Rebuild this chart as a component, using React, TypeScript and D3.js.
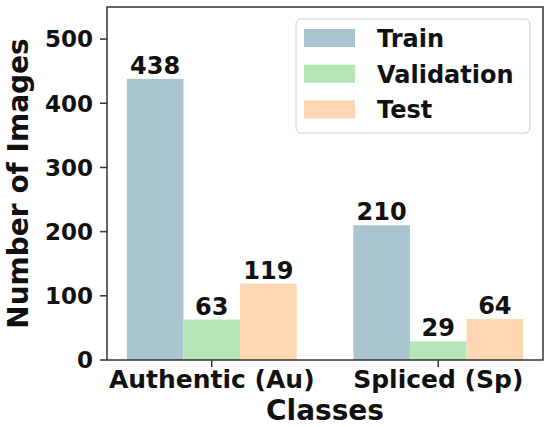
import React, { useEffect } from 'react';
import * as d3 from 'd3';

const classes = ['Authentic (Au)', 'Spliced (Sp)'];
const splits = ['Train', 'Validation', 'Test'];
const trainCounts = [438, 210];
const validationCounts = [63, 29];
const testCounts = [119, 64];
const yTickValues = [0, 100, 200, 300, 400, 500];

const colors = ['#aac5d0', '#b5e6b5', '#fdd6b2'];
const font = '"DejaVu Sans", sans-serif';

const width = 550;
const height = 427;
const margin = { left: 107, right: 7, top: 7, bottom: 67 };

export default function App() {
  useEffect(() => {
    document.body.style.margin = '0';
  }, []);

  const series = [trainCounts, validationCounts, testCounts];
  const barW = 0.25;

  const x = d3
    .scaleLinear()
    .domain([-0.4625, classes.length - 1 + 0.4625])
    .range([margin.left, width - margin.right]);
  const y = d3
    .scaleLinear()
    .domain([0, 550])
    .range([height - margin.bottom, margin.top]);

  const x0 = margin.left;
  const x1 = width - margin.right;
  const y0 = height - margin.bottom;
  const y1 = margin.top;

  return (
    <svg width={width} height={height} style={{ display: 'block' }} fontFamily={font} fontWeight="bold">
      <rect width={width} height={height} fill="#fff" />

      {series.map((vals, j) =>
        vals.map((v, i) => {
          const cx = i + (j - 1) * barW;
          return (
            <g key={`${j}-${i}`}>
              <rect
                x={x(cx - barW / 2)}
                y={y(v)}
                width={x(cx + barW / 2) - x(cx - barW / 2)}
                height={y(0) - y(v)}
                fill={colors[j]}
              />
              <text x={x(cx)} y={y(v) - 5} textAnchor="middle" fontSize={24} fill="#111">
                {v}
              </text>
            </g>
          );
        })
      )}

      {/* spines */}
      <rect x={x0} y={y1} width={x1 - x0} height={y0 - y1} fill="none" stroke="#333" strokeWidth={1.5} />

      {/* y axis */}
      {yTickValues.map(t => (
        <g key={t}>
          <line x1={x0 - 7} x2={x0} y1={y(t)} y2={y(t)} stroke="#333" strokeWidth={1.5} />
          <text x={x0 - 14} y={y(t)} dy="0.36em" textAnchor="end" fontSize={23} fill="#111">
            {t}
          </text>
        </g>
      ))}

      {/* x axis */}
      {classes.map((c, i) => (
        <g key={c}>
          <line x1={x(i)} x2={x(i)} y1={y0} y2={y0 + 7} stroke="#333" strokeWidth={1.5} />
          <text x={x(i)} y={y0 + 28} textAnchor="middle" fontSize={25} fill="#111">
            {c}
          </text>
        </g>
      ))}

      <text x={(x0 + x1) / 2} y={420} textAnchor="middle" fontSize={28} fill="#111">
        Classes
      </text>
      <text
        transform={`translate(28,${(y0 + y1) / 2}) rotate(-90)`}
        textAnchor="middle"
        fontSize={28}
        fill="#111"
      >
        Number of Images
      </text>

      {/* legend */}
      <g>
        <rect x={296} y={19} width={234} height={114} rx={5} fill="#fff" fillOpacity={0.8} stroke="#d0d0d0" strokeWidth={1} />
        {splits.map((s, j) => {
          const cy = 38 + j * 35.7;
          return (
            <g key={s}>
              <rect x={304} y={cy - 9} width={51} height={18} fill={colors[j]} />
              <text x={377} y={cy + 9} fontSize={24} fill="#111">
                {s}
              </text>
            </g>
          );
        })}
      </g>
    </svg>
  );
}
